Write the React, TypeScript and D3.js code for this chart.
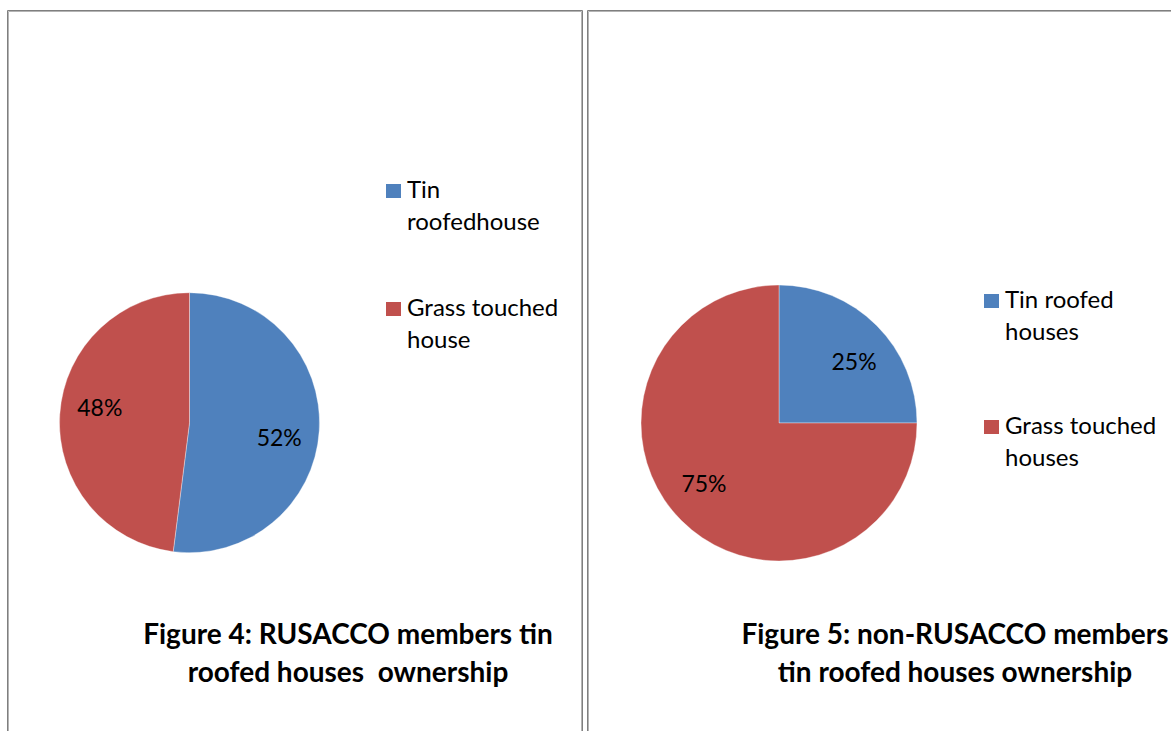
import React from "react";
import * as d3 from "d3";

const seriesColors = ["#4F81BD", "#C0504D"];

const fig4Values = [52, 48];
const fig4Legend = [["Tin", "roofedhouse"], ["Grass touched", "house"]];
const fig4Title = ["Figure 4: RUSACCO members tin", "roofed houses  ownership"];

const fig5Values = [25, 75];
const fig5Legend = [["Tin roofed", "houses"], ["Grass touched", "houses"]];
const fig5Title = ["Figure 5: non-RUSACCO members", "tin roofed houses ownership"];

const FONT = "Lato, 'Open Sans', 'DejaVu Sans', sans-serif";

type PanelProps = {
  values: number[];
  legend: string[][];
  title: string[];
  cx: number;
  cy: number;
  r: number;
  legendX: number;
  legendY: number[];
  titleX: number;
  titleY: number;
};

function Panel({ values, legend, title, cx, cy, r, legendX, legendY, titleX, titleY }: PanelProps) {
  const pie = d3.pie<number>().sort(null).value((d) => d);
  const arcs = pie(values);
  const arc = d3.arc<d3.PieArcDatum<number>>().innerRadius(0).outerRadius(r);
  const total = d3.sum(values);
  const labelR = r * 0.7;
  const shift = (6 * Math.PI) / 180;
  return (
    <g>
      <g transform={`translate(${cx},${cy})`}>
        {arcs.map((a, i) => (
          <path key={i} d={arc(a) || ""} fill={seriesColors[i]} stroke="#ffffff" strokeWidth={0.6} strokeOpacity={0.6} />
        ))}
        {arcs.map((a, i) => {
          const mid = (a.startAngle + a.endAngle) / 2 + shift;
          const x = Math.sin(mid) * labelR;
          const y = -Math.cos(mid) * labelR;
          return (
            <text key={i} x={x} y={y} dy="0.35em" textAnchor="middle" fontSize={23} fontFamily={FONT} fill="#000">
              {`${Math.round((a.data / total) * 100)}%`}
            </text>
          );
        })}
      </g>
      {legend.map((lines, i) => (
        <g key={i}>
          <rect x={legendX - 21} y={legendY[i] - 14} width={15} height={14} fill={seriesColors[i]} />
          {lines.map((ln, j) => (
            <text key={j} x={legendX} y={legendY[i] + j * 32} fontSize={24} fontFamily={FONT} fill="#000">
              {ln}
            </text>
          ))}
        </g>
      ))}
      {title.map((ln, j) => (
        <text key={j} x={titleX} y={titleY + j * 38} textAnchor="middle" fontSize={28} fontWeight="bold" fontFamily={FONT} fill="#000" style={{ whiteSpace: "pre" }}>
          {ln}
        </text>
      ))}
    </g>
  );
}

function Cell({ x0, x1, y0, y1 }: { x0: number; x1: number; y0: number; y1: number }) {
  return (
    <g fill="none">
      <path d={`M${x0 + 0.5},${y1} V${y0 + 0.5} H${x1 - 0.5} V${y1}`} stroke="#7f7f7f" strokeWidth={1} />
      <path d={`M${x0 + 1.5},${y1} V${y0 + 1.5} H${x1 - 1.5} V${y1}`} stroke="#b4b4b4" strokeWidth={1} />
    </g>
  );
}

export default function App() {
  return (
    <svg width={1171} height={731} style={{ position: "absolute", left: 0, top: 0, background: "#fff" }}>
      <rect x={0} y={0} width={1171} height={731} fill="#fff" />
      <Cell x0={7} x1={583} y0={10} y1={740} />
      <Cell x0={587} x1={1180} y0={10} y1={740} />
      <Panel
        values={fig4Values}
        legend={fig4Legend}
        title={fig4Title}
        cx={189.5}
        cy={422.7}
        r={130}
        legendX={407}
        legendY={[198, 316]}
        titleX={348}
        titleY={644}
      />
      <Panel
        values={fig5Values}
        legend={fig5Legend}
        title={fig5Title}
        cx={779}
        cy={423}
        r={138}
        legendX={1005}
        legendY={[308, 434]}
        titleX={955}
        titleY={644}
      />
    </svg>
  );
}
